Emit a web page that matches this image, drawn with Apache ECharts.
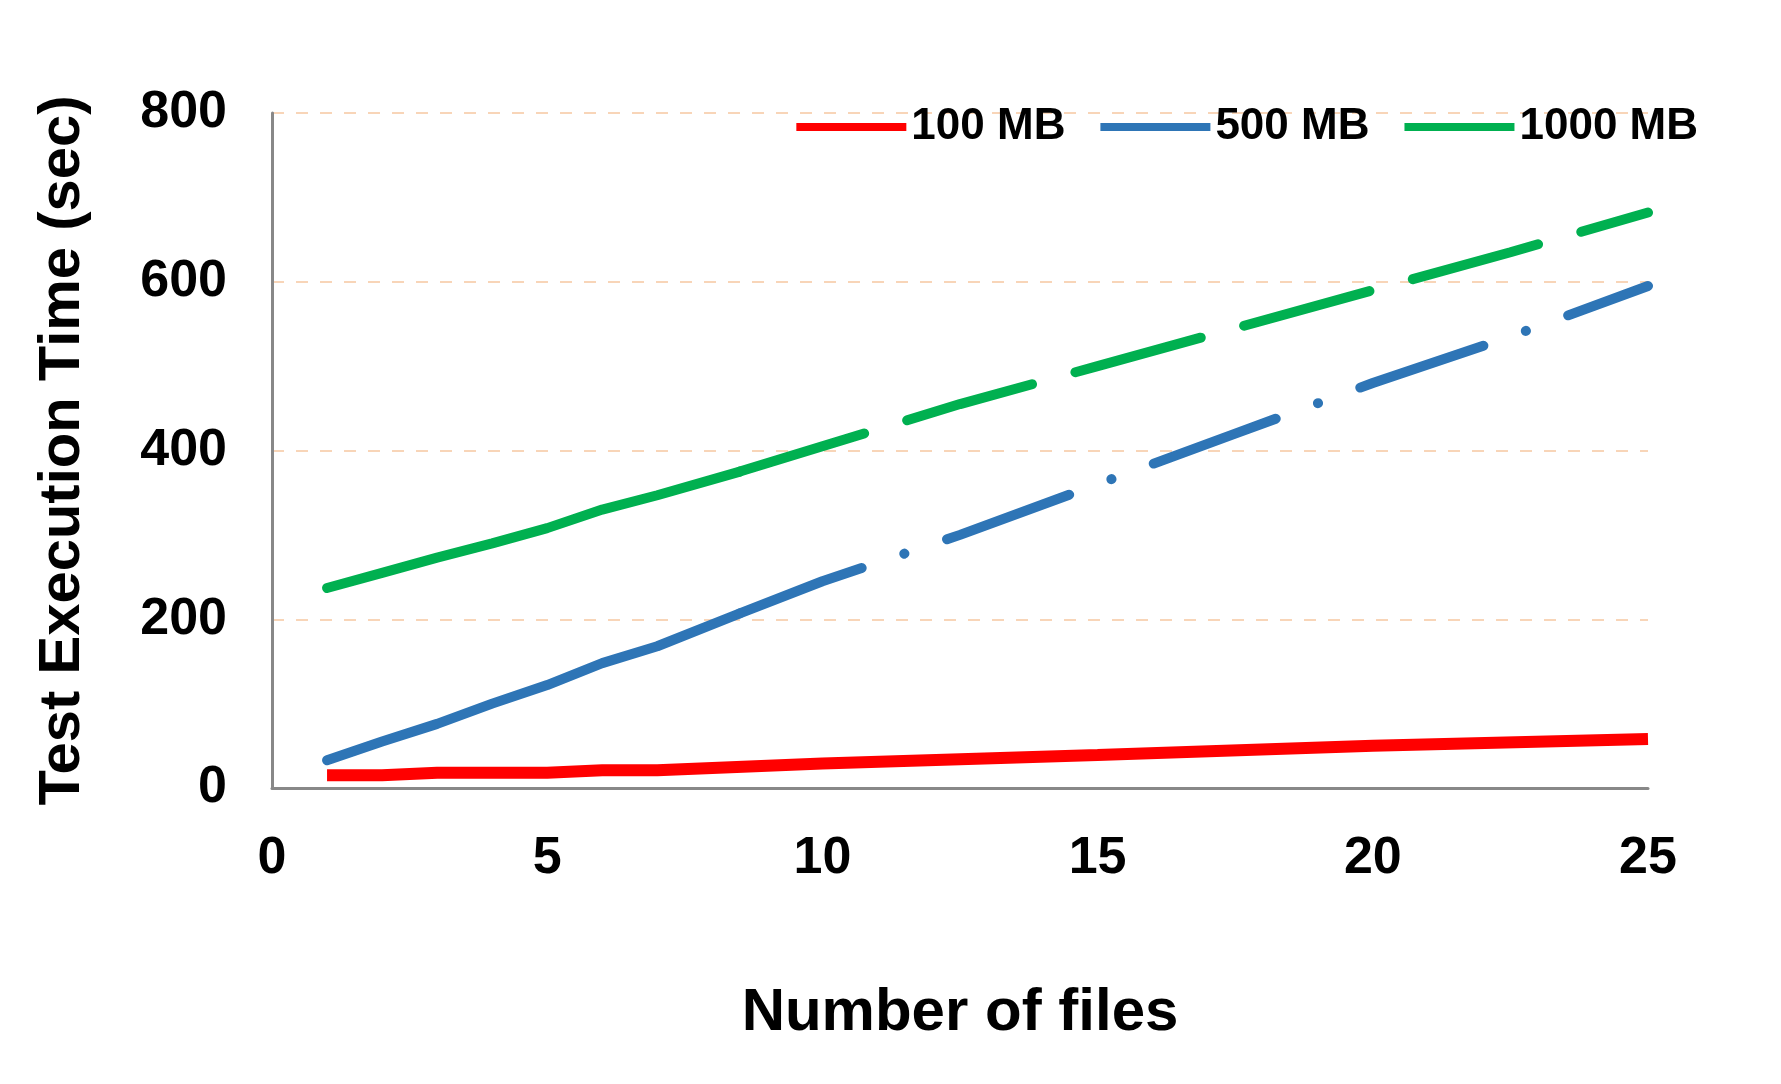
<!DOCTYPE html>
<html><head><meta charset="utf-8">
<script src="https://cdn.jsdelivr.net/npm/echarts@6/dist/echarts.min.js"></script>
<style>html,body{margin:0;padding:0;background:#fff}#c{width:1781px;height:1084px}</style>
</head><body><div id="c"></div>
<script>
const xSolid = [1,2,3,4,5,6,7,8.5];
const xDashed = [8.5,10,12.5,15,17.5,20,22.5,25];
const red = [[1,15],[2,15],[3,18],[4,18],[5,18],[6,21],[7,21],[10,29],[15,39],[20,50],[25,58]];
const blueSolid = [33,55,76,100,122,148,168,207];
const blueDashed = [207,245,300,360,420,480,535,595];
const greenSolid = [237,255,273,290,308,330,347,375];
const greenDashed = [375,405,455,500,545,590,635,682];
const zip = (xs, ys) => xs.map((x,i)=>[x, ys[i]]);
const font = 'Liberation Sans, Arial, sans-serif';
const chart = echarts.init(document.getElementById('c'));
chart.setOption({
  animation:false,
  grid:{left:272,right:133,top:113,bottom:296},
  legend:{top:100,right:78,itemWidth:110,itemHeight:8,itemGap:35,
    textStyle:{fontFamily:font,fontWeight:'bold',fontSize:44,color:'#000'},
    data:[{name:'100 MB',icon:'rect'},{name:'500 MB',icon:'rect'},{name:'1000 MB',icon:'rect'}]},
  xAxis:{type:'value',min:0,max:25,interval:5,name:'Number of files',nameLocation:'middle',nameGap:195,
    nameTextStyle:{fontFamily:font,fontWeight:'bold',fontSize:60,color:'#000'},
    axisLine:{lineStyle:{color:'#888',width:3}},axisTick:{show:false},splitLine:{show:false},
    axisLabel:{fontFamily:font,fontWeight:'bold',fontSize:52,color:'#000',margin:45}},
  yAxis:{type:'value',min:0,max:800,interval:200,name:'Test Execution Time (sec)',nameLocation:'middle',nameGap:180,
    nameTextStyle:{fontFamily:font,fontWeight:'bold',fontSize:58,color:'#000'},
    axisLine:{show:true,lineStyle:{color:'#888',width:3}},axisTick:{show:false},
    splitLine:{lineStyle:{color:'#f8d5b8',type:[12,12],width:2}},
    axisLabel:{fontFamily:font,fontWeight:'bold',fontSize:52,color:'#000',margin:45}},
  series:[
    {name:'100 MB',type:'line',data:red,symbol:'none',lineStyle:{color:'#ff0000',width:12},itemStyle:{color:'#ff0000'}},
    {name:'500 MB',type:'line',data:zip(xSolid,blueSolid),symbol:'none',lineStyle:{color:'#2e75b6',width:10,cap:'round'},itemStyle:{color:'#2e75b6'}},
    {name:'500 MB',type:'line',data:zip(xDashed,blueDashed),symbol:'none',lineStyle:{color:'#2e75b6',width:10,cap:'round',type:[130,45,0.1,45]},itemStyle:{color:'#2e75b6'}},
    {name:'1000 MB',type:'line',data:zip(xSolid,greenSolid),symbol:'none',lineStyle:{color:'#00b050',width:10,cap:'round'},itemStyle:{color:'#00b050'}},
    {name:'1000 MB',type:'line',data:zip(xDashed,greenDashed),symbol:'none',lineStyle:{color:'#00b050',width:10,cap:'round',type:[130,45]},itemStyle:{color:'#00b050'}}
  ]
});
</script></body></html>
